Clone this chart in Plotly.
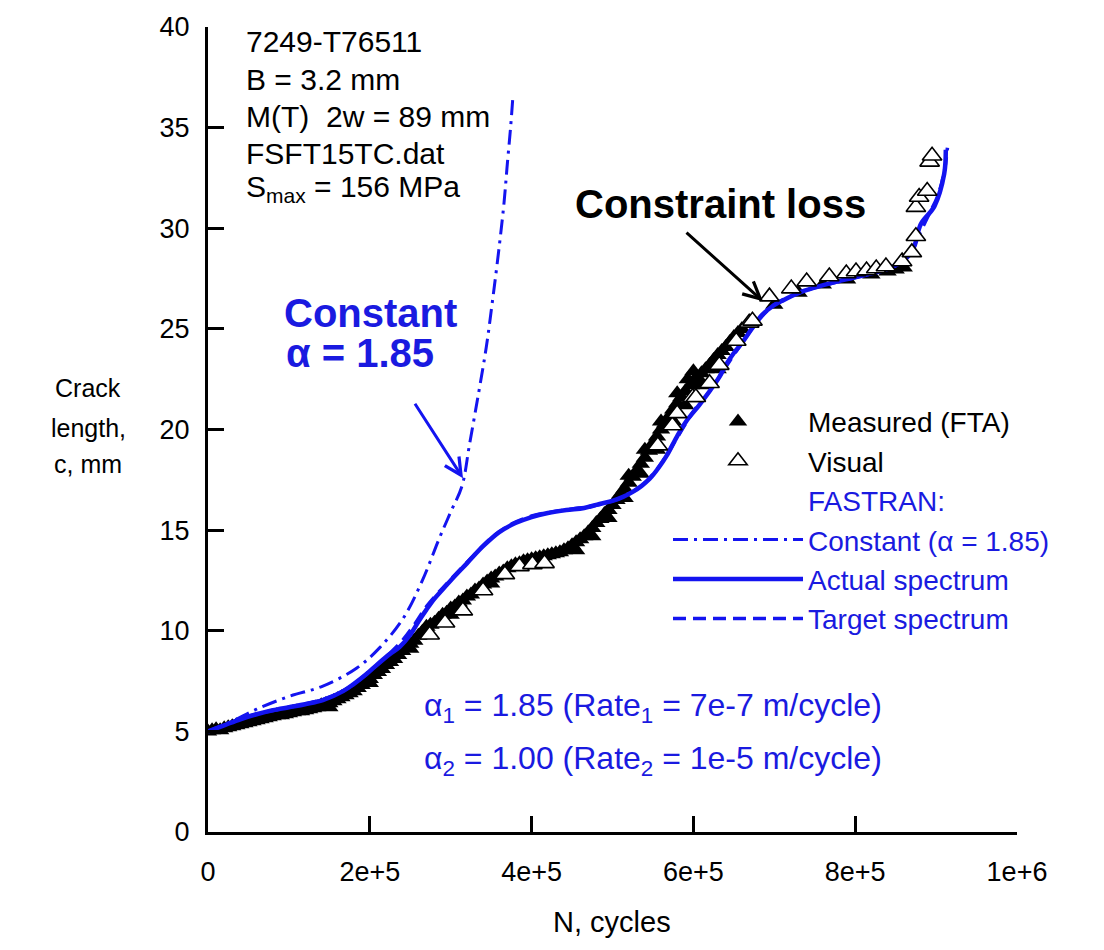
import numpy as np
import plotly.graph_objects as go

# ---------------- data ----------------
# Measured crack length from FTA (N in thousands of cycles, c in mm)
meas_kcyc = [0, 5, 10, 15, 20, 25, 30, 35, 40, 45, 50, 55, 60, 65, 70, 75, 80, 85, 90, 95,
             100, 105, 110, 115, 120, 125, 130, 135, 140, 145, 150, 155, 160, 165, 170, 175,
             180, 185, 190, 195, 200, 205, 210, 215, 220, 225, 230, 235, 240, 245, 250, 255,
             260, 265, 270, 275, 280, 285, 290, 295, 300, 305, 310, 315, 320, 325, 330, 335,
             340, 345, 350, 355, 360, 365, 370, 375, 380, 385, 390, 395, 400, 405, 410, 415,
             420, 425, 430, 435, 440, 445, 450, 455, 460, 465, 470, 475, 480, 485, 490, 495,
             500, 505, 510, 515, 520, 525, 530, 535, 540, 545, 550, 555, 560, 565, 570, 575,
             580, 585, 590, 593, 597, 600, 605, 610, 615, 620, 625, 630, 635, 640, 645, 650,
             655, 660,
             455, 475, 495, 515, 535, 555, 575, 590, 610, 630,
             520, 540, 560, 580, 600, 250, 300, 350, 400, 200, 150,
             700, 730, 760, 790, 820, 840, 850, 860]
meas_c = [5.0, 5.05, 5.1, 5.05, 5.15, 5.2, 5.25, 5.3, 5.35, 5.4, 5.45, 5.5, 5.55, 5.6, 5.65, 5.7,
          5.75, 5.8, 5.8, 5.85, 5.9, 5.95, 6.0, 6.0, 6.05, 6.1, 6.15, 6.2, 6.3, 6.35, 6.4, 6.5,
          6.6, 6.7, 6.8, 6.9, 7.0, 7.15, 7.3, 7.45, 7.6, 7.8, 7.95, 8.1, 8.3, 8.45, 8.6, 8.8,
          9.0, 9.15, 9.35, 9.5, 9.75, 9.95, 10.2, 10.3, 10.4, 10.6, 10.8, 10.9, 11.1, 11.2,
          11.4, 11.5, 11.7, 11.8, 12.0, 12.1, 12.3, 12.45, 12.6, 12.7, 12.85, 12.95, 13.1,
          13.2, 13.3, 13.35, 13.45, 13.5, 13.55, 13.6, 13.65, 13.7, 13.75, 13.8, 13.85, 13.9,
          14.0, 14.1, 14.25, 14.4, 14.55, 14.7, 14.9, 15.1, 15.35, 15.55, 15.8, 16.0, 16.25,
          16.5, 16.8, 17.05, 17.35, 17.65, 17.95, 18.3, 18.6, 18.95, 19.3, 19.65, 20.0, 20.3,
          20.65, 21.0, 21.3, 21.6, 21.9, 22.5, 22.2, 22.4, 22.6, 22.8, 23.0, 23.2, 23.45, 23.7,
          23.9, 24.1, 24.35, 24.6, 24.8, 25.0,
          14.0, 14.7, 15.6, 16.6, 17.8, 19.0, 20.4, 21.2, 22.2, 23.0,
          17.7, 19.0, 20.4, 21.8, 22.9, 9.1, 10.8, 12.35, 13.35, 7.4, 6.2,
          26.2, 26.8, 27.2, 27.45, 27.7, 27.85, 27.95, 28.05]

# Visual crack length readings
vis_kcyc = [274, 293, 315, 340, 367, 385, 401, 416, 556, 574, 580, 599, 603, 620, 632, 653,
            669, 673, 694, 721, 740, 768, 789, 801, 814, 826, 838, 858, 870, 875, 875, 879,
            889, 892, 895]
vis_c = [9.8, 10.4, 11.0, 12.0, 12.8, 13.2, 13.3, 13.35, 19.2, 20.2, 20.8, 21.6, 21.6, 22.3,
         23.2, 24.4, 25.3, 25.4, 26.6, 27.0, 27.35, 27.6, 27.75, 27.85, 27.9, 28.0, 28.1,
         28.35, 28.8, 29.6, 31.05, 31.55, 31.85, 33.3, 33.6]

# FASTRAN, constant constraint factor (alpha = 1.85)
const_kcyc = [0, 30, 60, 101, 142, 184, 212, 241, 265, 286, 300, 314, 323, 334, 344, 352,
              360, 366, 370, 374, 377]
const_c = [5.0, 5.5, 6.1, 6.75, 7.25, 8.15, 9.15, 10.6, 12.5, 14.6, 15.9, 17.2, 19.2, 21.7,
           24.1, 26.5, 29.1, 31.3, 33.2, 35.0, 36.6]

# FASTRAN, actual spectrum
act_kcyc = [0, 20, 40, 60, 80, 100, 120, 142, 167, 180, 196, 210, 225, 237, 250, 260, 270,
            280, 290, 300, 320, 340, 360, 380, 400, 420, 443, 465, 484, 500, 513, 525, 536,
            546, 557, 567, 579, 591, 607, 620, 632, 640, 650, 660, 672, 685, 697, 710, 731,
            750, 772, 793, 814, 842, 863, 873, 881, 898, 910, 912]
act_c = [5.0, 5.3, 5.6, 5.85, 6.05, 6.2, 6.35, 6.55, 7.0, 7.35, 7.85, 8.35, 8.85, 9.2, 9.8,
         10.45, 11.05, 11.6, 12.05, 12.5, 13.35, 14.2, 14.9, 15.35, 15.65, 15.85, 16.0, 16.1,
         16.3, 16.45, 16.65, 16.9, 17.2, 17.55, 18.1, 18.7, 19.6, 20.4, 21.2, 21.9, 22.6, 23.2,
         23.8, 24.3, 25.0, 25.7, 26.1, 26.4, 26.8, 27.05, 27.3, 27.5, 27.7, 28.0, 28.5, 29.1,
         30.2, 31.1, 32.7, 33.9]

# FASTRAN, target spectrum
tgt_kcyc = [0, 25, 50, 75, 100, 125, 150, 175, 200, 220, 240, 255, 270, 285, 300, 325, 350,
            375, 400, 425, 450, 475, 500, 520, 540, 560, 580, 600, 620, 640, 660, 680, 700,
            725, 750, 775, 800, 825, 845, 865, 878, 890, 902, 910, 914]
tgt_c = [5.0, 5.4, 5.75, 6.0, 6.2, 6.4, 6.7, 7.2, 8.0, 8.7, 9.5, 10.3, 11.2, 11.9, 12.55, 13.6,
         14.6, 15.3, 15.7, 15.9, 16.05, 16.2, 16.45, 16.8, 17.35, 18.3, 19.6, 20.9, 21.9, 23.1,
         24.3, 25.4, 26.2, 26.7, 27.05, 27.3, 27.55, 27.8, 28.05, 28.6, 29.6, 30.6, 31.6, 32.8,
         34.0]

x_ticks = [0, 200000, 400000, 600000, 800000, 1000000]
x_tick_text = ["0", "2e+5", "4e+5", "6e+5", "8e+5", "1e+6"]
y_ticks = [0, 5, 10, 15, 20, 25, 30, 35, 40]

# ---------------- styling ----------------
FONT = "Liberation Sans, Arial, sans-serif"
BLUE = "#1414f0"
TXT_BLUE = "#1a1ae0"

W, H = 1104, 950
L, R, T, B = 208, 1017, 22, 832          # plot-area edges in pixels


def xp(px):
    """pixel column -> paper x"""
    return (px - L) / (R - L)


def yp(py):
    """pixel row -> paper y"""
    return (B - py) / (B - T)


def kc(v):
    return np.asarray(v, dtype=float) * 1000.0


fig = go.Figure()

fig.add_trace(go.Scatter(
    x=kc(meas_kcyc), y=meas_c, mode="markers", name="Measured (FTA)", legendrank=1,
    marker=dict(symbol="triangle-up", size=16, color="black", line=dict(width=0)),
))
fig.add_trace(go.Scatter(
    x=kc(tgt_kcyc), y=tgt_c, mode="lines", line_shape="spline",
    name=f"<span style='color:{TXT_BLUE}'>Target spectrum</span>",
    legendrank=6, line=dict(color=BLUE, width=3.5, dash="13px,7px"),
))
fig.add_trace(go.Scatter(
    x=kc(act_kcyc), y=act_c, mode="lines", line_shape="spline",
    name=f"<span style='color:{TXT_BLUE}'>Actual spectrum</span>",
    legendrank=5, line=dict(color=BLUE, width=4.5),
))
fig.add_trace(go.Scatter(
    x=kc(const_kcyc), y=const_c, mode="lines", line_shape="spline",
    name=f"<span style='color:{TXT_BLUE}'>Constant (α = 1.85)</span>", legendrank=4,
    line=dict(color=BLUE, width=3, dash="15px,6px,3px,6px"),
))
fig.add_trace(go.Scatter(
    x=kc(vis_kcyc), y=vis_c, mode="markers", name="Visual", legendrank=2,
    marker=dict(symbol="triangle-up", size=17, color="white", line=dict(width=1.6, color="black")),
))
# legend header for the FASTRAN predictions
fig.add_trace(go.Scatter(
    x=[None], y=[None], mode="markers", name=f"<span style='color:{TXT_BLUE}'>FASTRAN:</span>",
    legendrank=3, marker=dict(color="rgba(0,0,0,0)", size=1), hoverinfo="skip",
))

annotations = []

# specimen block
info_lines = ["7249-T76511", "B = 3.2 mm", "M(T)  2w = 89 mm", "FSFT15TC.dat",
              "S<sub>max</sub> = 156 MPa"]
info_rows = [37, 75, 112, 149, 185]
for txt, row in zip(info_lines, info_rows):
    annotations.append(dict(xref="paper", yref="paper", x=xp(244), y=yp(row), text=txt,
                            xanchor="left", yanchor="middle", showarrow=False,
                            font=dict(family=FONT, size=30, color="black")))

# constant-alpha callout
annotations.append(dict(xref="paper", yref="paper", x=xp(370), y=yp(310), text="<b>Constant</b>",
                        showarrow=False, xanchor="center", yanchor="middle",
                        font=dict(family=FONT, size=40, color=TXT_BLUE)))
annotations.append(dict(xref="paper", yref="paper", x=xp(360), y=yp(350), text="<b>α = 1.85</b>",
                        showarrow=False, xanchor="center", yanchor="middle",
                        font=dict(family=FONT, size=40, color=TXT_BLUE)))
annotations.append(dict(xref="x", yref="y", x=(463 - L) / (R - L) * 1e6, y=(B - 476) / (B - T) * 40,
                        ax=414 - 463, ay=400 - 476, axref="pixel", ayref="pixel", text="",
                        showarrow=True, arrowhead=5, arrowsize=1.1, arrowwidth=3, arrowcolor=BLUE))

# constraint-loss callout
annotations.append(dict(xref="paper", yref="paper", x=xp(720), y=yp(200), text="<b>Constraint loss</b>",
                        showarrow=False, xanchor="center", yanchor="middle",
                        font=dict(family=FONT, size=40, color="black")))
annotations.append(dict(xref="x", yref="y", x=(763 - L) / (R - L) * 1e6, y=(B - 298) / (B - T) * 40,
                        ax=685 - 763, ay=228 - 298, axref="pixel", ayref="pixel", text="",
                        showarrow=True, arrowhead=5, arrowsize=1.1, arrowwidth=3, arrowcolor="black"))

# constraint-factor settings
annotations.append(dict(xref="paper", yref="paper", x=xp(422), y=yp(707),
                        text="α<sub>1</sub> = 1.85 (Rate<sub>1</sub> = 7e-7 m/cycle)",
                        showarrow=False, xanchor="left", yanchor="middle",
                        font=dict(family=FONT, size=32, color=TXT_BLUE)))
annotations.append(dict(xref="paper", yref="paper", x=xp(422), y=yp(760),
                        text="α<sub>2</sub> = 1.00 (Rate<sub>2</sub> = 1e-5 m/cycle)",
                        showarrow=False, xanchor="left", yanchor="middle",
                        font=dict(family=FONT, size=32, color=TXT_BLUE)))

# axis titles
for txt, row in zip(["Crack", "length,", "c, mm"], [385, 425, 462]):
    annotations.append(dict(xref="paper", yref="paper", x=xp(88), y=yp(row), text=txt,
                            showarrow=False, xanchor="center", yanchor="middle",
                            font=dict(family=FONT, size=25, color="black")))
annotations.append(dict(xref="paper", yref="paper", x=xp(612), y=yp(923), text="N, cycles",
                        showarrow=False, xanchor="center", yanchor="middle",
                        font=dict(family=FONT, size=29, color="black")))

axis_common = dict(showline=True, linewidth=3, linecolor="black", ticks="inside", ticklen=16,
                   tickwidth=2.5, tickcolor="black", showgrid=False, zeroline=False,
                   mirror=False, tickfont=dict(family=FONT, size=27, color="black"))

fig.update_layout(
    width=W, height=H, autosize=False,
    margin=dict(l=L, r=W - R, t=T, b=H - B, pad=0),
    paper_bgcolor="white", plot_bgcolor="white",
    xaxis=dict(range=[0, 1e6], tickmode="array", tickvals=x_ticks, ticktext=x_tick_text,
               ticklabelstandoff=14, **axis_common),
    yaxis=dict(range=[0, 40], tickmode="array", tickvals=y_ticks, ticklabelstandoff=10,
               **axis_common),
    legend=dict(x=xp(668), y=yp(394), xanchor="left", yanchor="top", traceorder="normal",
                itemwidth=130, font=dict(family=FONT, size=28, color="black"),
                bgcolor="rgba(0,0,0,0)", borderwidth=0, tracegroupgap=0),
    showlegend=True,
    annotations=annotations,
)

fig.write_html("out.html")
